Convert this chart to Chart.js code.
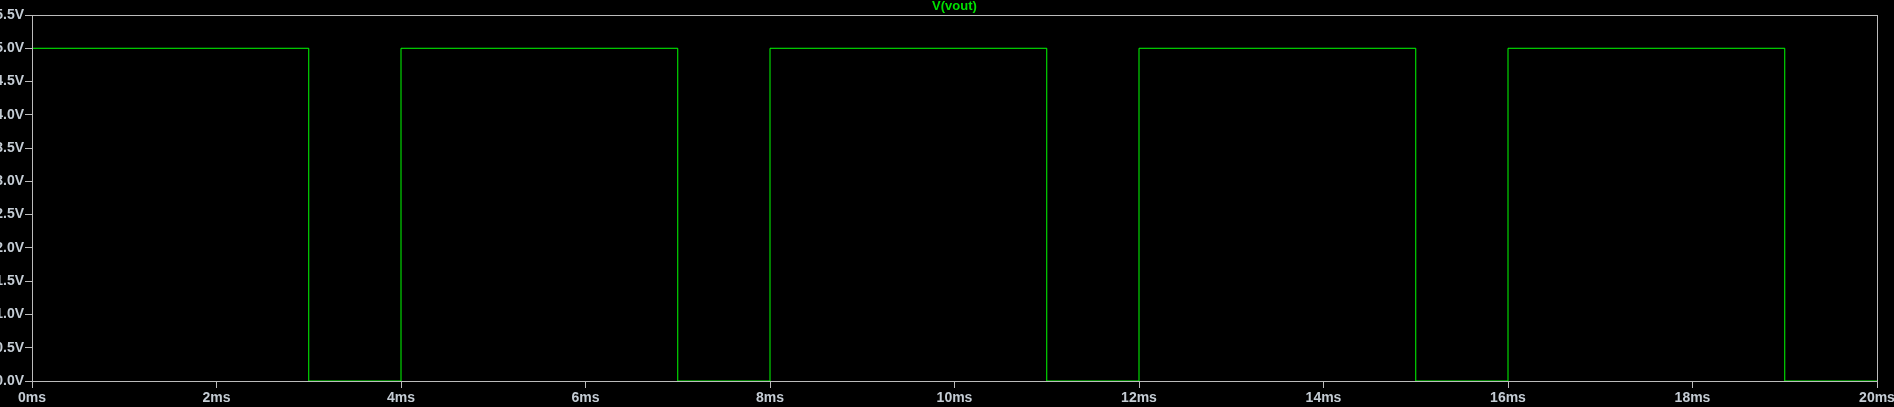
<!DOCTYPE html>
<html>
<head>
<meta charset="utf-8">
<script src="https://cdn.jsdelivr.net/npm/chart.js@4"></script>
<style>
  html, body { margin: 0; padding: 0; background: #000; overflow: hidden; }
  canvas { display: block; }
</style>
</head>
<body>
<canvas id="plot" width="1894" height="407"></canvas>
<script>
  // waveform corners (time in ms, value in V)
  const timesMs = [0, 0, 3, 4, 7, 8, 11, 12, 15, 16, 19, 20];
  const voutV   = [0, 5, 0, 5, 0, 5, 0, 5, 0, 5, 0, 0];
  const traceName = "V(vout)";

  const axisGray = "#bcbcbc";
  const labelGray = "#c4ccd4";
  const traceGreen = "#00ff00";
  const fontFamily = "'Liberation Sans', Arial, sans-serif";
  const labelFont = { family: fontFamily, size: 14, weight: "bold" };

  // gray frame round the plot area + trace name centred above it
  const framePlugin = {
    id: "frame",
    afterDraw(chart) {
      const { ctx, chartArea: a } = chart;
      ctx.save();
      ctx.strokeStyle = axisGray;
      ctx.lineWidth = 1;
      ctx.strokeRect(a.left + 0.5, a.top + 0.5, a.right - a.left, a.bottom - a.top);
      ctx.fillStyle = "#00e000";
      ctx.font = "bold 13px " + fontFamily;
      ctx.textAlign = "center";
      ctx.textBaseline = "middle";
      ctx.fillText(traceName, (a.left + a.right) / 2, 6.5);
      ctx.restore();
    },
  };

  new Chart(document.getElementById("plot"), {
    type: "line",
    data: {
      datasets: [{
        label: traceName,
        data: timesMs.map((t, i) => ({ x: t, y: voutV[i] })),
        borderColor: traceGreen,
        borderWidth: 1,
        pointRadius: 0,
        stepped: true,
        tension: 0,
      }],
    },
    options: {
      responsive: false,
      animation: false,
      layout: { padding: { left: 0, right: 17, top: 15, bottom: 0 } },
      plugins: {
        legend: { display: false },
        tooltip: { enabled: false },
        title: { display: false },
      },
      scales: {
        x: {
          type: "linear",
          min: 0,
          max: 20,
          afterFit: (s) => {
            s.height = 26;
            // let the last label run off the edge like the original
            s.paddingLeft = 0;
            s.paddingRight = 0;
          },
          ticks: {
            stepSize: 2,
            color: labelGray,
            font: labelFont,
            padding: 2,
            maxRotation: 0,
            callback: (v) => v + "ms",
          },
          grid: { drawOnChartArea: false, drawTicks: true, tickLength: 7, color: axisGray },
          border: { color: axisGray },
        },
        y: {
          min: 0,
          max: 5.5,
          afterFit: (s) => { s.width = 32; },
          ticks: {
            stepSize: 0.5,
            color: labelGray,
            font: labelFont,
            padding: 1,
            callback: (v) => v.toFixed(1) + "V",
          },
          grid: { drawOnChartArea: false, drawTicks: true, tickLength: 7, color: axisGray },
          border: { color: axisGray },
        },
      },
    },
    plugins: [framePlugin],
  });
</script>
</body>
</html>
